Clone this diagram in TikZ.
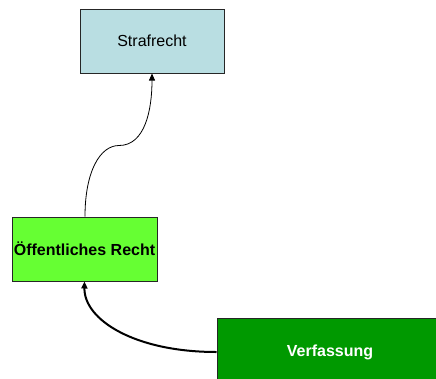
\documentclass[tikz,border=0pt]{standalone}
\usepackage{fontspec}
\setmainfont{Liberation Sans}
\usetikzlibrary{arrows.meta}
\definecolor{lightcyan}{RGB}{185,222,226}
\definecolor{brightgreen}{RGB}{102,255,51}
\definecolor{darkgreen}{RGB}{0,153,0}
\tikzset{
  box/.style={draw=black!85, line width=1pt, inner sep=0pt, font=\fontsize{16}{19}\selectfont},
  conn/.style={-{Triangle[length=7pt,width=6pt]}, black}
}
\begin{document}
\begin{tikzpicture}[x=1pt,y=-1pt]
\useasboundingbox (0,0) rectangle (436,378);
\node[box, fill=lightcyan, minimum width=144, minimum height=64] (straf) at (152,41) {Strafrecht};
\node[box, fill=brightgreen, minimum width=145, minimum height=64, font=\fontsize{16}{19}\selectfont\bfseries] (oeff) at (84.5,249) {Öffentliches Recht};
\node[box, fill=darkgreen, minimum width=226, minimum height=68, text=white, font=\fontsize{16}{19}\selectfont\bfseries] (verf) at (330,352) {Verfassung};
\coordinate (m1) at (119,145.5);
\draw[conn, line width=0.8pt] ([xshift=0.5pt]oeff.north) .. controls +(0,-45) and (100,145.5) .. (m1) .. controls (145,145.5) and (152,110) .. (straf.south);
\draw[conn, line width=2pt] (verf.west) .. controls (135,352) and (84,320) .. (oeff.south);
\end{tikzpicture}
\end{document}
